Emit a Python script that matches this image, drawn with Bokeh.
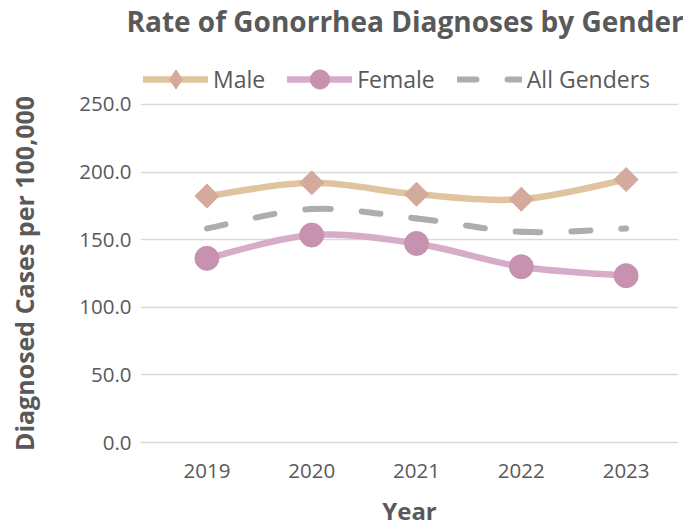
import numpy as np
from bokeh.plotting import figure
from bokeh.models import (ColumnDataSource, Legend, LegendItem, Range1d,
                          FixedTicker, NumeralTickFormatter)
from bokeh.embed import file_html
from bokeh.resources import INLINE

# ---- data ----
years = [2019, 2020, 2021, 2022, 2023]
male = [182.2, 192.0, 183.6, 179.9, 194.4]
female = [136.2, 153.4, 147.2, 130.0, 123.4]
all_genders = [158.3, 172.6, 165.7, 155.8, 158.3]
y_ticks = [0, 50, 100, 150, 200, 250]

FONT = "Open Sans"
TXT = "#595959"

# frame: x 140..678 px, y 40..507 px (250 gridline at 104 px, 0 at 443 px)
p = figure(width=683, height=529, output_backend="svg", toolbar_location=None,
           x_range=Range1d(2018.366, 2023.5), y_range=Range1d(-47.2, 297.2),
           min_border_left=140, min_border_right=5, min_border_bottom=22,
           min_border_top=40,
           title="Rate of Gonorrhea Diagnoses by Gender")
p.title.align = "left"
p.title.offset = -14
p.title.vertical_align = "middle"
p.title.standoff = 0
p.title.text_font = FONT
p.title.text_font_size = "28px"
p.title.text_font_style = "bold"
p.title.text_color = TXT
p.outline_line_color = None


def smooth_segments(xs, ys):
    """Excel-like smoothing: cubic Bezier segments through the data points."""
    xs = list(xs); ys = list(ys)
    n = len(xs)
    d = dict(x0=[], y0=[], x1=[], y1=[], cx0=[], cy0=[], cx1=[], cy1=[])
    for i in range(n - 1):
        xm, ym = (xs[i - 1], ys[i - 1]) if i > 0 else (xs[i], ys[i])
        xp, yp = (xs[i + 2], ys[i + 2]) if i + 2 < n else (xs[i + 1], ys[i + 1])
        d["x0"].append(xs[i]); d["y0"].append(ys[i])
        d["x1"].append(xs[i + 1]); d["y1"].append(ys[i + 1])
        d["cx0"].append(xs[i] + (xs[i + 1] - xm) / 6)
        d["cy0"].append(ys[i] + (ys[i + 1] - ym) / 6)
        d["cx1"].append(xs[i + 1] - (xp - xs[i]) / 6)
        d["cy1"].append(ys[i + 1] - (yp - ys[i]) / 6)
    return ColumnDataSource(d)


MALE_LINE, MALE_MK = "#E0C4A0", "#D3AA9B"
FEM_LINE, FEM_MK = "#D6ACC8", "#C791B0"
GRAY = "#ADADAD"

p.bezier(source=smooth_segments(years, all_genders), line_color=GRAY, line_width=6,
         line_dash="19 31", line_cap="round")
p.bezier(source=smooth_segments(years, male), line_color=MALE_LINE, line_width=6.5,
         line_cap="round")
p.bezier(source=smooth_segments(years, female), line_color=FEM_LINE, line_width=6.5,
         line_cap="round")

m_r = p.scatter(years, male, marker="square", angle=np.pi / 4, size=17,
                fill_color=MALE_MK, line_color=MALE_MK)
f_r = p.scatter(years, female, marker="circle", size=24,
                fill_color=FEM_MK, line_color=FEM_MK)

# legend proxies (single NaN point: nothing drawn in the plot)
nan = [float("nan")]
ml = p.line(nan, nan, line_color=MALE_LINE, line_width=6.5, line_cap="round")
md = p.scatter(nan, nan, marker="diamond", fill_color=MALE_MK, line_color=MALE_MK)
fl = p.line(nan, nan, line_color=FEM_LINE, line_width=6.5, line_cap="round")
gl = p.line(nan, nan, line_color=GRAY, line_width=6, line_dash="19 31", line_cap="round")

legend = Legend(items=[LegendItem(label="Male", renderers=[ml, md]),
                       LegendItem(label="Female", renderers=[fl, f_r]),
                       LegendItem(label="All Genders", renderers=[gl])],
                orientation="horizontal", location=(3, 403),
                glyph_width=65, glyph_height=48, label_standoff=5, spacing=22,
                label_text_font=FONT, label_text_font_size="23px",
                label_text_color=TXT, padding=0, margin=0,
                border_line_alpha=0, background_fill_alpha=0)
p.add_layout(legend, "center")

# axes
p.xaxis.ticker = FixedTicker(ticks=years)
p.yaxis.ticker = FixedTicker(ticks=y_ticks)
p.yaxis.formatter = NumeralTickFormatter(format="0.0")
p.xaxis.formatter = NumeralTickFormatter(format="0")

for ax in (p.xaxis[0], p.yaxis[0]):
    ax.axis_line_color = None
    ax.major_tick_line_color = None
    ax.minor_tick_line_color = None
    ax.major_tick_out = 0
    ax.major_tick_in = 0
    ax.minor_tick_out = 0
    ax.major_label_text_font = FONT
    ax.major_label_text_font_size = "20.5px"
    ax.major_label_text_color = TXT
    ax.axis_label_text_font = FONT
    ax.axis_label_text_font_size = "24px"
    ax.axis_label_text_font_style = "bold"
    ax.axis_label_text_color = TXT

p.yaxis.axis_label_text_font_size = "25px"
p.xaxis.axis_label = "Year"
p.yaxis.axis_label = "Diagnosed Cases per 100,000"
p.xaxis.major_label_standoff = -43
p.xaxis.axis_label_standoff = 13
p.yaxis.major_label_standoff = 9
p.yaxis.axis_label_standoff = 35

p.xgrid.grid_line_color = None
p.ygrid.grid_line_color = "#D9D9D9"
p.ygrid.grid_line_width = 1.5
p.ygrid.bounds = (2018.5, 2023.5)

open("out.html", "w").write(file_html(p, INLINE))
